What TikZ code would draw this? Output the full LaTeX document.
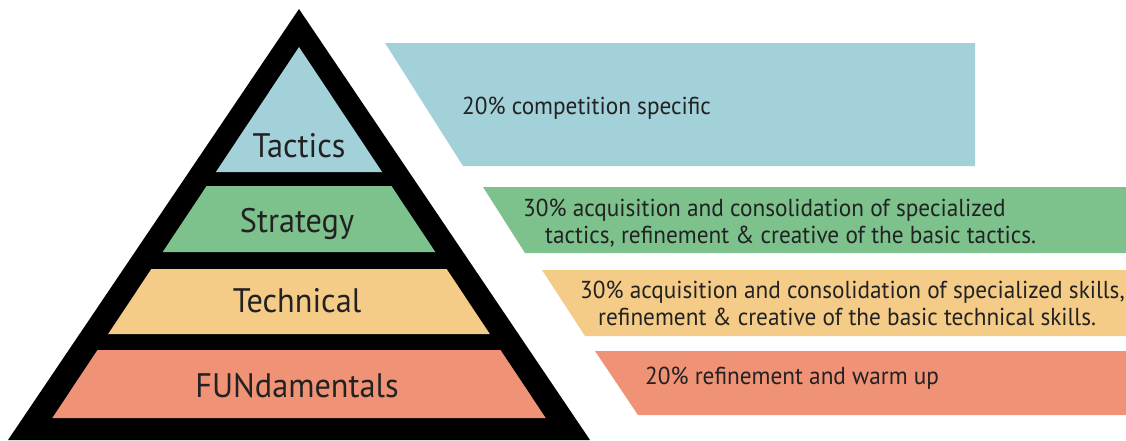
\documentclass[tikz,border=0pt]{standalone}
\usepackage{fontspec}
\newfontfamily\pyrfont[FakeStretch=0.95]{PT Sans}
\usepackage{tikz}
\definecolor{tacticsblue}{HTML}{A3D1DA}
\definecolor{strategygreen}{HTML}{7DC18C}
\definecolor{technicalyellow}{HTML}{F5CC87}
\definecolor{fundred}{HTML}{EF9276}
\definecolor{inkgray}{HTML}{222222}
\tikzstyle{level} = [font=\pyrfont\fontsize{34}{38}\selectfont, anchor=base, inner sep=0pt, text=inkgray]
\tikzstyle{note} = [font=\pyrfont\fontsize{24.5}{27}\selectfont, anchor=base west, align=left, inner sep=0pt, text=inkgray]
% one coloured band of the pyramid, from y #1 down to y #2
\newcommand{\band}[3]{\fill[#3] ({299-(#1-47)*0.665},#1) -- ({299+(#1-47)*0.665},#1) -- ({299+(#2-47)*0.665},#2) -- ({299-(#2-47)*0.665},#2) -- cycle;}

\begin{document}
\begin{tikzpicture}[x=1pt, y=-1pt]
	\useasboundingbox (0,0) rectangle (1126,440);
	% pyramid
	\fill[black] (299,9) -- (590,440) -- (8,440) -- cycle;
	\band{47}{172}{tacticsblue}
	\band{186}{252}{strategygreen}
	\band{269}{334}{technicalyellow}
	\band{350}{418}{fundred}
	\node[level] (tactics) at (299,157) {Tactics};
	\node[level] (strategy) at (297,232) {Strategy};
	\node[level] (technical) at (297,312) {Technical};
	\node[level] (fund) at (297,397) {FUNdamentals};
	% panels on the right
	\fill[tacticsblue] (385,43) -- (975,43) -- (975,166) -- (463,166) -- cycle;
	\fill[strategygreen] (483,187) -- (1126,187) -- (1126,253) -- (525,253) -- cycle;
	\fill[technicalyellow] (542,270) -- (1126,270) -- (1126,336) -- (585,336) -- cycle;
	\fill[fundred] (595,351) -- (1126,351) -- (1126,415) -- (638,415) -- cycle;
	% base anchor of a two-line note sits on its last line
	\node[note] (tacticsnote) at (462,114) {20\% competition specific};
	\node[note] (strategynote) at (523,243) {30\% acquisition and consolidation of specialized\\
		\hspace*{22pt}tactics, refinement \& creative of the basic tactics.};
	\node[note] (technicalnote) at (580,325) {30\% acquisition and consolidation of specialized skills,\\
		\hspace*{18pt}refinement \& creative of the basic technical skills.};
	\node[note] (fundnote) at (645,384) {20\% refinement and warm up};
\end{tikzpicture}
\end{document}
